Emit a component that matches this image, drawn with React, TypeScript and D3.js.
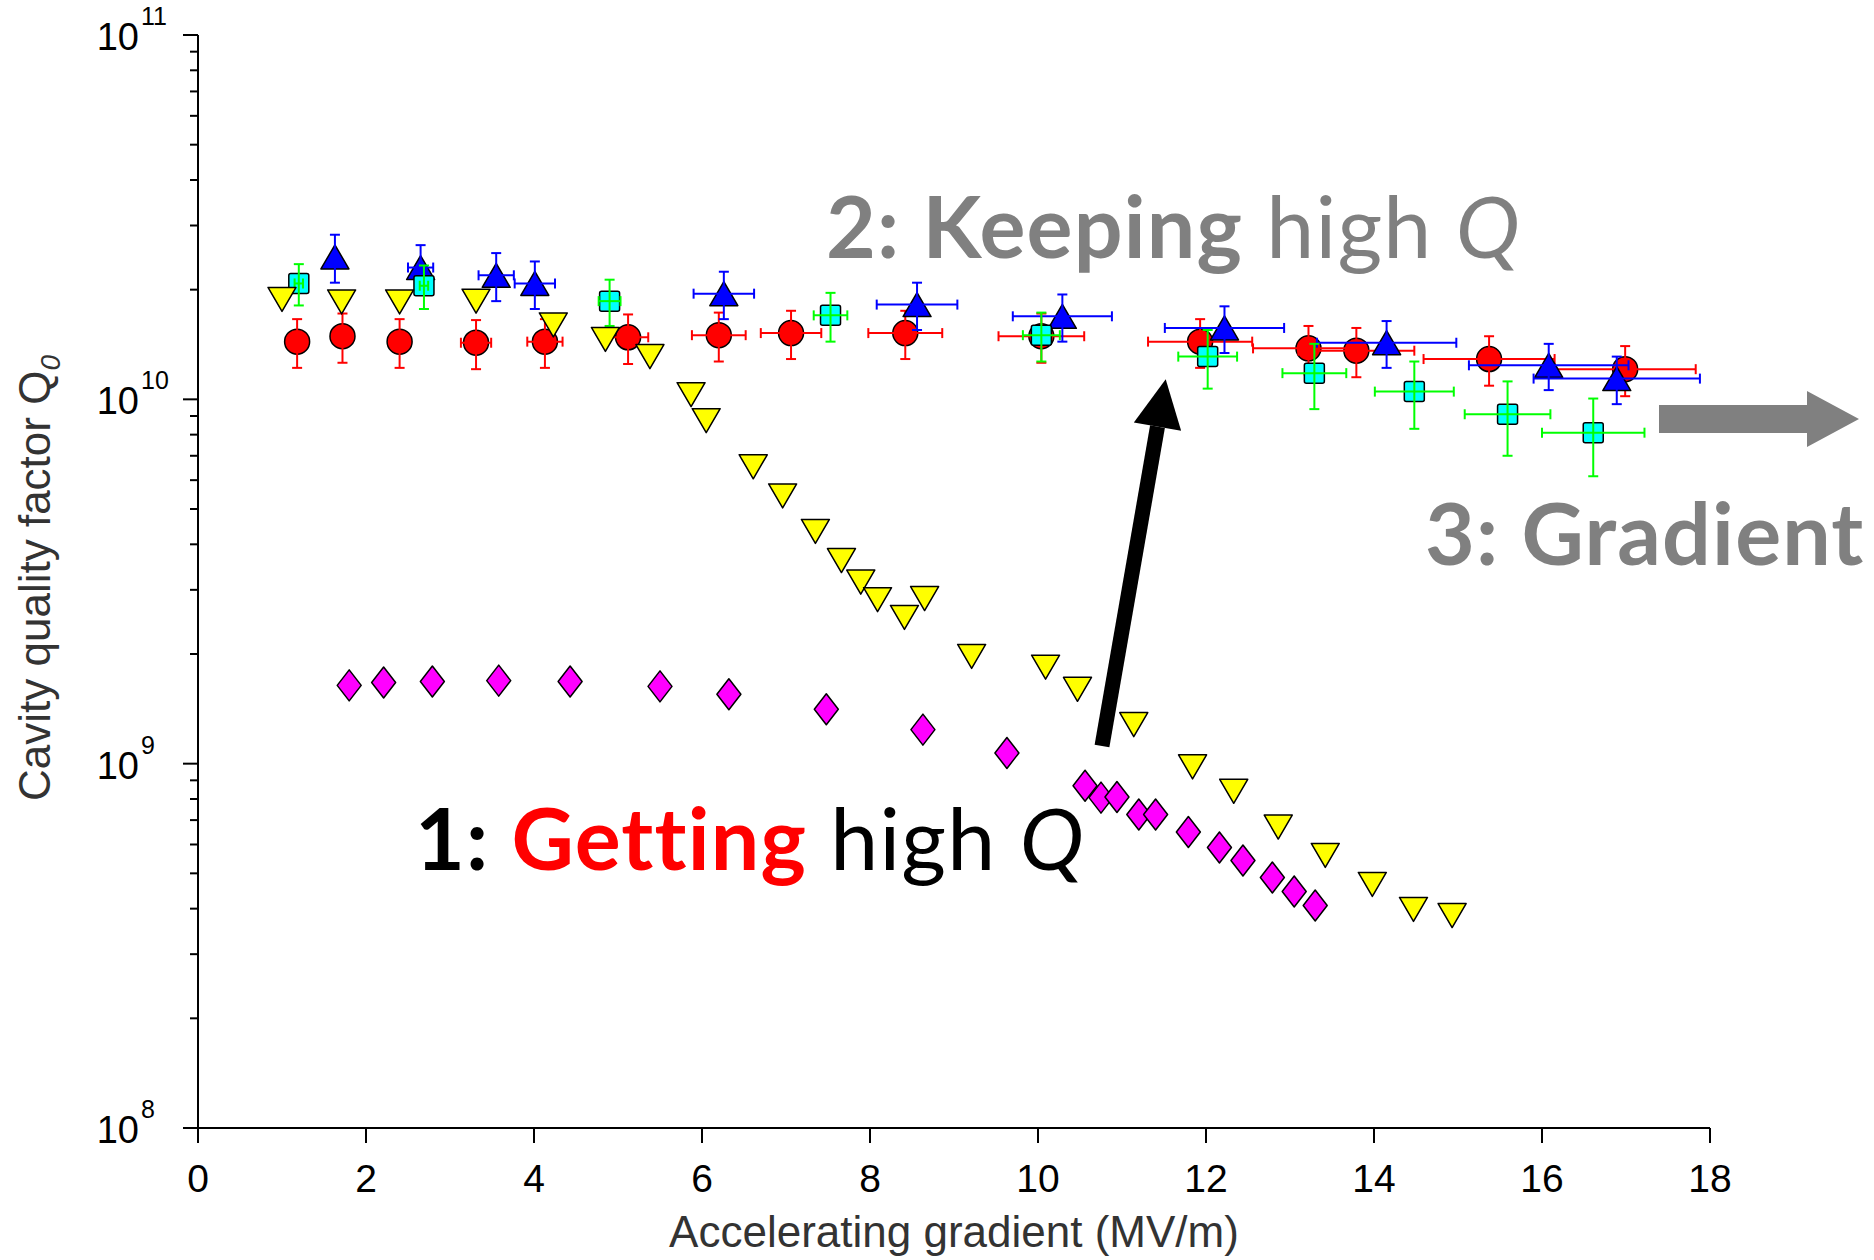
import React from 'react';
import * as d3 from 'd3';

// values
const xTicks = [0, 2, 4, 6, 8, 10, 12, 14, 16, 18];
const yDecades = [8, 9, 10, 11];

const redX = [1.18, 1.72, 2.4, 3.31, 4.13, 5.12, 6.2, 7.06, 8.42, 10.04, 11.93, 13.22, 13.79, 15.37, 16.99];
const redQ = [1.44e10, 1.49e10, 1.44e10, 1.43e10, 1.44e10, 1.48e10, 1.5e10, 1.52e10, 1.52e10, 1.49e10, 1.44e10, 1.38e10, 1.36e10, 1.29e10, 1.21e10];
const redXErr = [0, 0, 0, 0.18, 0.21, 0.24, 0.32, 0.36, 0.44, 0.51, 0.62, 0.66, 0.69, 0.78, 0.84];
const redQErr = [0.22e10, 0.23e10, 0.22e10, 0.22e10, 0.22e10, 0.23e10, 0.23e10, 0.23e10, 0.23e10, 0.23e10, 0.22e10, 0.21e10, 0.21e10, 0.2e10, 0.19e10];

const blueX = [1.63, 2.65, 3.55, 4.01, 6.26, 8.56, 10.29, 12.22, 14.15, 16.08, 16.89];
const blueQ = [2.46e10, 2.3e10, 2.19e10, 2.08e10, 1.95e10, 1.82e10, 1.69e10, 1.57e10, 1.43e10, 1.24e10, 1.14e10];
const blueXErr = [0, 0.15, 0.21, 0.24, 0.36, 0.48, 0.59, 0.71, 0.83, 0.95, 0.99];
const blueQErr = [0.37e10, 0.35e10, 0.33e10, 0.31e10, 0.29e10, 0.27e10, 0.25e10, 0.23e10, 0.21e10, 0.18e10, 0.17e10];

const cyanX = [1.2, 2.69, 4.9, 7.53, 10.04, 12.02, 13.29, 14.48, 15.59, 16.61];
const cyanQ = [2.08e10, 2.05e10, 1.86e10, 1.7e10, 1.5e10, 1.31e10, 1.18e10, 1.05e10, 9.1e9, 8.1e9];
const cyanXErr = [0.05, 0.05, 0.13, 0.2, 0.22, 0.35, 0.38, 0.47, 0.51, 0.61];
const cyanQErr = [0.27e10, 0.28e10, 0.27e10, 0.26e10, 0.23e10, 0.24e10, 0.24e10, 0.22e10, 0.21e10, 0.195e10];

const yellowX = [1.0, 1.71, 2.4, 3.31, 4.23, 4.85, 5.38, 5.87, 6.05, 6.61, 6.96, 7.35, 7.66, 7.89, 8.09, 8.41, 8.65, 9.21, 10.09, 10.47, 11.14, 11.84, 12.33, 12.86, 13.42, 13.98, 14.47, 14.93];
const yellowQ = [1.88e10, 1.85e10, 1.85e10, 1.86e10, 1.6e10, 1.46e10, 1.31e10, 1.03e10, 8.74e9, 6.53e9, 5.43e9, 4.34e9, 3.61e9, 3.15e9, 2.82e9, 2.52e9, 2.84e9, 1.97e9, 1.84e9, 1.6e9, 1.28e9, 9.8e8, 8.4e8, 6.7e8, 5.6e8, 4.66e8, 3.98e8, 3.83e8];

const magentaX = [1.8, 2.21, 2.79, 3.58, 4.43, 5.5, 6.32, 7.48, 8.63, 9.63, 10.56, 10.75, 10.94, 11.2, 11.4, 11.79, 12.16, 12.44, 12.79, 13.05, 13.3];
const magentaQ = [1.64e9, 1.67e9, 1.68e9, 1.69e9, 1.68e9, 1.63e9, 1.55e9, 1.41e9, 1.24e9, 1.07e9, 8.7e8, 8.07e8, 8.1e8, 7.25e8, 7.25e8, 6.49e8, 5.89e8, 5.42e8, 4.87e8, 4.46e8, 4.08e8];

const x = d3.scaleLinear().domain([0, 18]).range([198, 1710]);
const y = d3.scaleLog().domain([1e8, 1e11]).range([1128, 35]);

const tickFont = '"Liberation Sans", Arial, sans-serif';
const noteFont = 'Lato, "Open Sans", sans-serif';

function ErrBars({ xs, qs, xe, qe, color }) {
  const cap = 5;
  return (
    <g stroke={color} strokeWidth={2} fill="none">
      {xs.map((v, i) => {
        const cx = x(v), cy = y(qs[i]);
        const y1 = y(qs[i] + qe[i]), y2 = y(qs[i] - qe[i]);
        const x1 = x(v - xe[i]), x2 = x(v + xe[i]);
        return (
          <g key={i}>
            <line x1={cx} x2={cx} y1={y1} y2={y2} />
            <line x1={cx - cap} x2={cx + cap} y1={y1} y2={y1} />
            <line x1={cx - cap} x2={cx + cap} y1={y2} y2={y2} />
            {xe[i] > 0 && (
              <>
                <line x1={x1} x2={x2} y1={cy} y2={cy} />
                <line x1={x1} x2={x1} y1={cy - cap} y2={cy + cap} />
                <line x1={x2} x2={x2} y1={cy - cap} y2={cy + cap} />
              </>
            )}
          </g>
        );
      })}
    </g>
  );
}

const triUp = (w, h) => `M0,${-h / 2}L${w / 2},${h / 2}L${-w / 2},${h / 2}Z`;
const triDown = (w, h) => `M${-w / 2},${-h / 2}L${w / 2},${-h / 2}L0,${h / 2}Z`;
const diamond = (w, h) => `M0,${-h / 2}L${w / 2},0L0,${h / 2}L${-w / 2},0Z`;

export default function App() {
  const minor: number[] = [];
  [8, 9, 10].forEach((d) => {
    for (let k = 2; k <= 9; k++) minor.push(k * Math.pow(10, d));
  });

  // black arrow geometry
  const tip = [1165.7, 379.3];
  const bottom = [1102, 746];
  const len = Math.hypot(tip[0] - bottom[0], tip[1] - bottom[1]);
  const dir = [(tip[0] - bottom[0]) / len, (tip[1] - bottom[1]) / len];
  const perp = [-dir[1], dir[0]];
  const headL = 48, headW = 24, shaftW = 7.5;
  const base = [tip[0] - dir[0] * headL, tip[1] - dir[1] * headL];
  const pt = (p, s) => `${p[0] + perp[0] * s},${p[1] + perp[1] * s}`;
  const shaft = [pt(bottom, shaftW), pt(base, shaftW), pt(base, -shaftW), pt(bottom, -shaftW)].join(' ');
  const head = [pt(base, headW), `${tip[0]},${tip[1]}`, pt(base, -headW)].join(' ');

  return (
    <svg width={1874} height={1260} style={{ position: 'absolute', left: 0, top: 0, background: '#fff' }}>
      {/* axes */}
      <g stroke="#000" strokeWidth={2}>
        <line x1={x(0)} x2={x(0)} y1={y(1e11)} y2={y(1e8)} />
        <line x1={x(0)} x2={x(18)} y1={y(1e8)} y2={y(1e8)} />
        {xTicks.map((t) => (
          <line key={t} x1={x(t)} x2={x(t)} y1={y(1e8)} y2={y(1e8) + 15} />
        ))}
        {yDecades.map((d) => (
          <line key={d} x1={x(0) - 15} x2={x(0)} y1={y(Math.pow(10, d))} y2={y(Math.pow(10, d))} />
        ))}
        {minor.map((m) => (
          <line key={m} x1={x(0) - 8} x2={x(0)} y1={y(m)} y2={y(m)} />
        ))}
      </g>
      <g fontFamily={tickFont} fill="#000">
        {xTicks.map((t) => (
          <text key={t} x={x(t)} y={1192} fontSize={39} textAnchor="middle">{t}</text>
        ))}
        {yDecades.map((d) => (
          <g key={d}>
            <text x={139} y={y(Math.pow(10, d)) + 15} fontSize={38} textAnchor="end">10</text>
            <text x={141} y={y(Math.pow(10, d)) - 10} fontSize={25}>{d}</text>
          </g>
        ))}
      </g>
      <text x={954} y={1247} fontFamily={tickFont} fontSize={44} fill="#333" textAnchor="middle">
        Accelerating gradient (MV/m)
      </text>
      <text transform="translate(50,578) rotate(-90)" fontFamily={tickFont} fontSize={44} fill="#333" textAnchor="middle">
        Cavity quality factor Q<tspan fontStyle="italic" fontSize={28} dy={10}>0</tspan>
      </text>

      {/* series */}
      <g stroke="#000" strokeWidth={1.5}>
        {redX.map((v, i) => (
          <circle key={i} cx={x(v)} cy={y(redQ[i])} r={12.5} fill="#ff0000" />
        ))}
      </g>
      <ErrBars xs={redX} qs={redQ} xe={redXErr} qe={redQErr} color="#ff0000" />
      <g stroke="#000" strokeWidth={1.5} strokeLinejoin="round">
        {blueX.map((v, i) => (
          <path key={i} d={triUp(28, 24)} transform={`translate(${x(v)},${y(blueQ[i])})`} fill="#0000ff" />
        ))}
      </g>
      <ErrBars xs={blueX} qs={blueQ} xe={blueXErr} qe={blueQErr} color="#0000ff" />
      <g stroke="#000" strokeWidth={1.5}>
        {cyanX.map((v, i) => (
          <rect key={i} x={x(v) - 10} y={y(cyanQ[i]) - 10} width={20} height={20} rx={2} fill="#00ffff" />
        ))}
      </g>
      <ErrBars xs={cyanX} qs={cyanQ} xe={cyanXErr} qe={cyanQErr} color="#00ff00" />
      <g stroke="#000" strokeWidth={1.5} strokeLinejoin="round">
        {yellowX.map((v, i) => (
          <path key={i} d={triDown(28, 24)} transform={`translate(${x(v)},${y(yellowQ[i])})`} fill="#ffff00" />
        ))}
        {magentaX.map((v, i) => (
          <path key={i} d={diamond(24, 31)} transform={`translate(${x(v)},${y(magentaQ[i])})`} fill="#ff00ff" />
        ))}
      </g>

      {/* annotations */}
      <polygon points={shaft} fill="#000" />
      <polygon points={head} fill="#000" />
      <polygon points="1659,405 1807,405 1807,391 1859,419 1807,447 1807,433 1659,433" fill="#808080" />
      <g fontFamily={noteFont} fontSize={86} letterSpacing={1.2} style={{ whiteSpace: 'pre', fontVariantLigatures: 'none' }}>
        <text x={826} y={258} fill="#808080">
          <tspan fontWeight="bold">2: Keeping</tspan>
          <tspan>{' high '}</tspan>
          <tspan fontStyle="italic">Q</tspan>
        </text>
        <text x={415} y={870} fill="#000">
          <tspan fontWeight="bold">{'1: '}</tspan>
          <tspan fontWeight="bold" fill="#ff0000">Getting</tspan>
          <tspan>{' high '}</tspan>
          <tspan fontStyle="italic">Q</tspan>
        </text>
        <text x={1425} y={565} fill="#808080" fontWeight="bold">3: Gradient</text>
      </g>
    </svg>
  );
}
